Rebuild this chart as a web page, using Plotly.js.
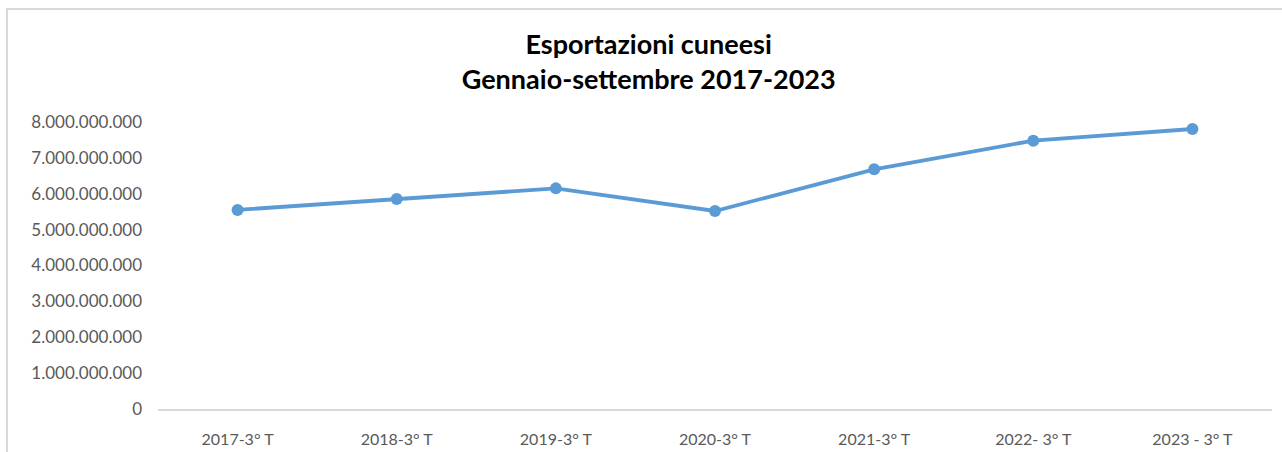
<!DOCTYPE html>
<html>
<head>
<meta charset="utf-8">
<script src="https://cdn.plot.ly/plotly-3.0.1.min.js"></script>
<style>
  html, body { margin: 0; padding: 0; background: #fff; }
  #wrap { position: relative; width: 1282px; height: 452px; overflow: hidden; }
  #chart { width: 1282px; height: 452px; }
  #frameL { position: absolute; left: 6px; top: 8px; width: 2px; height: 444px; background: #d9d9d9; }
  #frameT { position: absolute; left: 6px; top: 8px; width: 1276px; height: 2px; background: #d9d9d9; }
</style>
</head>
<body>
<div id="wrap">
  <div id="chart"></div>
  <div id="frameL"></div>
  <div id="frameT"></div>
</div>
<script>
const categories = ["2017-3° T", "2018-3° T", "2019-3° T", "2020-3° T", "2021-3° T", "2022- 3° T", "2023 - 3° T"];
const exportValues = [5550000000, 5855000000, 6150000000, 5520000000, 6680000000, 7480000000, 7805000000];
const yTicks = [0, 1000000000, 2000000000, 3000000000, 4000000000, 5000000000, 6000000000, 7000000000, 8000000000];
const yTickLabels = ["0", "1.000.000.000", "2.000.000.000", "3.000.000.000", "4.000.000.000", "5.000.000.000", "6.000.000.000", "7.000.000.000", "8.000.000.000"];

const trace = {
  x: categories,
  y: exportValues,
  type: 'scatter',
  mode: 'lines+markers',
  line: { color: '#5b9bd5', width: 3.8 },
  marker: { color: '#5b9bd5', size: 12 },
  hoverinfo: 'x+y'
};

const layout = {
  width: 1282,
  height: 452,
  margin: { l: 158, r: 10, t: 122, b: 43 },
  paper_bgcolor: '#ffffff',
  plot_bgcolor: '#ffffff',
  showlegend: false,
  font: { family: 'Lato, "Open Sans", sans-serif', color: '#595959', size: 17 },
  title: {
    text: '<b>Esportazioni cuneesi<br>Gennaio-settembre 2017-2023</b>',
    font: { family: 'Lato, "Open Sans", sans-serif', size: 27, color: '#000000' },
    x: 0.506, xanchor: 'center',
    y: 0.881, yanchor: 'top'
  },
  xaxis: {
    type: 'category',
    range: [-0.5, 6.5],
    showgrid: false,
    zeroline: false,
    showline: true,
    linecolor: '#d9d9d9',
    linewidth: 2,
    ticks: '',
    ticklabelstandoff: 15,
    tickfont: { size: 16, color: '#595959' },
    fixedrange: true
  },
  yaxis: {
    range: [0, 8000000000],
    tickvals: yTicks,
    ticktext: yTickLabels,
    showgrid: false,
    zeroline: false,
    showline: false,
    ticks: '',
    ticklabelstandoff: 15,
    tickfont: { size: 17, color: '#595959' },
    fixedrange: true
  }
};

Plotly.newPlot('chart', [trace], layout, { displayModeBar: false, staticPlot: true });
</script>
</body>
</html>
